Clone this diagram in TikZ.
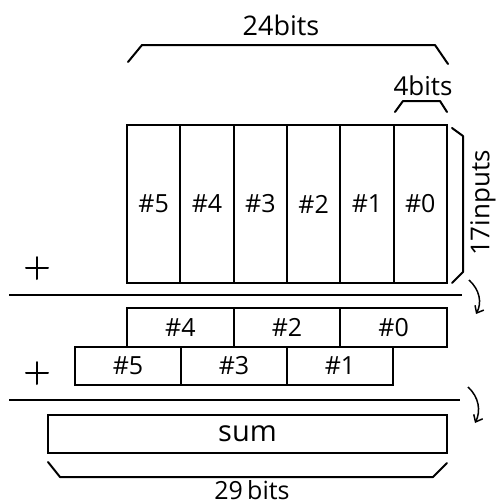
\documentclass[tikz,border=0pt]{standalone}
\usepackage{fontspec}
\setmainfont{Open Sans}
\usetikzlibrary{arrows.meta,positioning}
\tikzset
{
  cell/.style={draw,line width=2pt,outer sep=0pt,inner sep=0pt,anchor=north west,font=\fontsize{25}{28}\selectfont},
  bracket/.style={line width=2pt,line join=round,line cap=round},
  rule/.style={line width=2.4pt},
  flow/.style={line width=1.5pt,-{Straight Barb[length=6pt,width=10pt]}},
  tag/.style={inner sep=0pt,font=\fontsize{26}{28}\selectfont}
}

\begin{document}
\begin{tikzpicture}[x=1pt,y=-1pt]
        \useasboundingbox (0,0) rectangle (498,504);

        % Inputs, 6 slices of 4 bits
        \foreach \i/\t in {0/5,1/4,2/3,3/2,4/1,5/0}
            \node[cell,minimum width=53.33pt,minimum height=158pt] (in\t) at (127+53.33*\i,125) {\#\t};

        % Brackets and their labels
        \draw[bracket] (128,62) -- (142,45) -- (435,45) -- (448,64);
        \node[tag,font=\fontsize{27}{28}\selectfont] (wide) at (281,25) {24bits};
        \draw[bracket] (395,112) -- (403,101) -- (440,101) -- (447,112);
        \node[tag] (slice) at (423,86) {4bits};
        \draw[bracket] (452,128) -- (463,136) -- (463,272) -- (452,283);
        \node[tag,rotate=90] (rows) at (483,203) {17inputs};

        % First addition
        \draw[bracket] (26,268) -- (48,268) (37,257) -- (37,279);
        \draw[rule] (9,295) -- (462,295);
        \coordinate (a1) at (469,280);
        \coordinate (b1) at (476,314);
        \draw[flow] (a1) .. controls (480,290) and (482,303) .. (b1);

        % Partial sums
        \foreach \i/\t in {0/4,1/2,2/0}
            \node[cell,minimum width=106.67pt,minimum height=39pt] (ev\t) at (127+106.67*\i,308) {\#\t};
        \foreach \i/\t in {0/5,1/3,2/1}
            \node[cell,minimum width=106pt,minimum height=38pt] (od\t) at (75+106*\i,347) {\#\t};

        % Second addition
        \draw[bracket] (26,373) -- (48,373) (37,362) -- (37,384);
        \draw[rule] (9,400) -- (460,400);
        \coordinate (a2) at (468,387);
        \coordinate (b2) at (475,423);
        \draw[flow] (a2) .. controls (479,397) and (481,411) .. (b2);

        % Result
        \node[cell,minimum width=399pt,minimum height=38pt,font=\fontsize{29}{30}\selectfont] (sum) at (48,415) {sum};
        \draw[bracket] (48,462) -- (60,477) -- (433,477) -- (447,463);
        \node[tag,font=\fontsize{25}{28}\selectfont] (total) at (252,490) {29\,bits};
\end{tikzpicture}
\end{document}
